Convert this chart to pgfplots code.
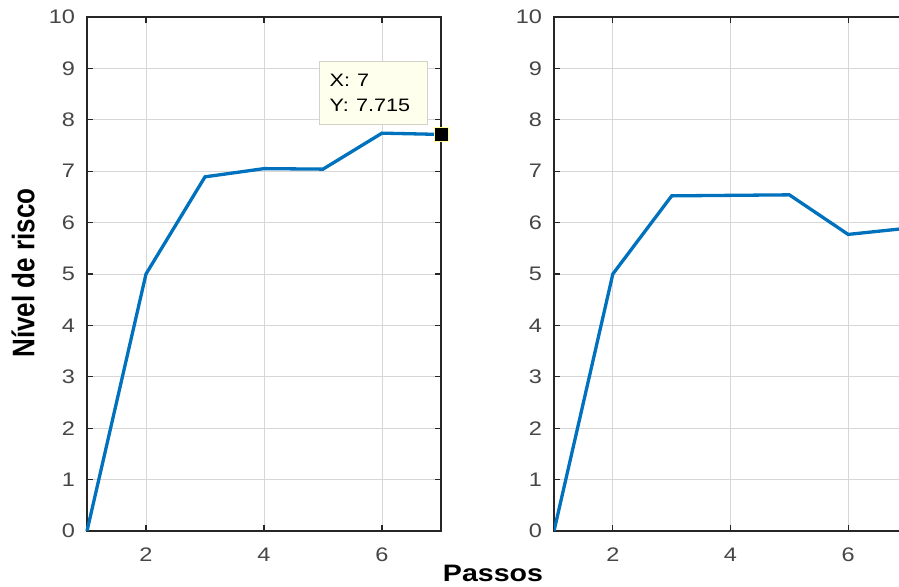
\documentclass[border=0pt]{standalone}
\usepackage{pgfplots}
\pgfplotsset{compat=1.18}
\usepackage{fontspec}
\setmainfont{Liberation Sans}
\definecolor{mblue}{RGB}{0,114,189}
\definecolor{axgray}{RGB}{38,38,38}
\definecolor{tickgray}{RGB}{70,70,70}
\definecolor{tipbg}{RGB}{255,255,238}
\definecolor{tipedge}{RGB}{210,210,200}

\pgfplotsset{
  riskaxis/.style={
    scale only axis, anchor=south west,
    width=177pt, height=257pt,
    xmin=1, xmax=7, ymin=0, ymax=10,
    xtick={2,4,6}, ytick={0,1,...,10},
    grid=major,
    major grid style={line width=0.45pt, color=black!16},
    axis line style={axgray, line width=0.6pt},
    tick style={axgray, line width=0.6pt},
    tick align=inside, major tick length=3pt,
    /pgf/number format/assume math mode=true,
    ticklabel style={font=\fontsize{9.8}{11}\selectfont, text=tickgray, xscale=1.2},
    yticklabel style={xshift=-1.5pt},
    xticklabel style={yshift=-5pt},
  }
}

\begin{document}
\begin{tikzpicture}
\useasboundingbox (0,0) rectangle (449.5pt,293.5pt);
\clip (0,0) rectangle (449.5pt,293.5pt);

% left panel
\begin{axis}[riskaxis, at={(43.5pt,28pt)}, clip=false]
  \addplot[mblue, line width=1.65pt] coordinates {
    (1,0) (2,5.0) (3,6.89) (4,7.05) (5,7.04) (6,7.74) (7,7.715)
  };
  \addplot[only marks, mark=square*, mark size=3.5pt,
           mark options={fill=black, draw=tipbg!60!yellow, line width=0.4pt}]
    coordinates {(7,7.715)};
  \node[anchor=south east, draw=tipedge, fill=tipbg, line width=0.4pt,
        align=left, inner xsep=4pt, inner ysep=3pt,
        font=\fontsize{9}{12.5}\selectfont, xshift=-6.5pt, yshift=5pt,
        minimum width=54pt, minimum height=31.5pt, text width=44pt]
    at (axis cs:7,7.715)
    {\scalebox{1.2}[1]{X: 7}\\\scalebox{1.2}[1]{Y: 7.715}};
\end{axis}

% right panel
\begin{axis}[riskaxis, at={(277pt,28pt)}, width=176.5pt]
  \addplot[mblue, line width=1.65pt] coordinates {
    (1,0) (2,5.0) (3,6.52) (4,6.53) (5,6.54) (6,5.77) (7,5.89)
  };
\end{axis}

% shared labels
\node[font=\bfseries\fontsize{13}{15}\selectfont] at (11.5pt,157pt)
  {\rotatebox{90}{\scalebox{1}[1.2]{Nível de risco}}};
\node[font=\bfseries\fontsize{11.9}{14}\selectfont] at (246.5pt,7pt)
  {\scalebox{1.2}[1]{Passos}};
\end{tikzpicture}
\end{document}
